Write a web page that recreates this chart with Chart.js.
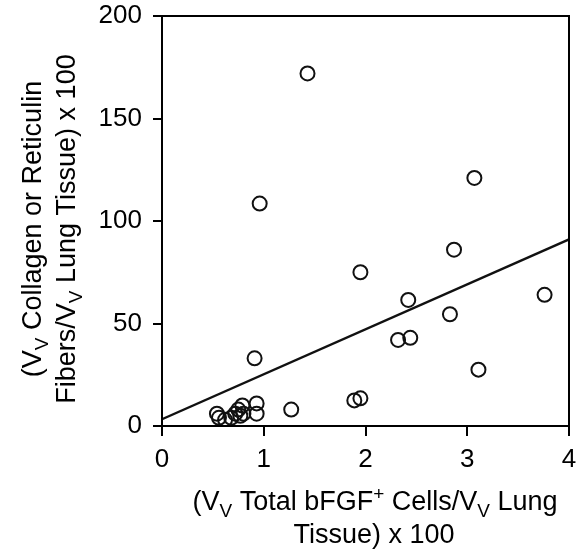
<!DOCTYPE html>
<html>
<head>
<meta charset="utf-8">
<script src="https://cdn.jsdelivr.net/npm/chart.js@4.4.0/dist/chart.umd.min.js"></script>
<style>
html,body{margin:0;padding:0;background:#fff;}
#wrap{width:583px;height:549px;}
</style>
</head>
<body>
<div id="wrap"><canvas id="c" width="583" height="549"></canvas></div>
<script>
// Scatter points
const xValues = [1.43, 3.07, 0.96, 2.87, 1.95, 2.42, 3.76, 2.83, 2.32, 2.44, 0.91, 3.11, 1.89, 1.95, 1.27, 0.93, 0.93, 0.54, 0.56, 0.62, 0.68, 0.72, 0.75, 0.77, 0.79, 0.80];
const yValues = [172, 121, 108.5, 86, 75, 61.5, 64, 54.5, 42, 43, 33, 27.5, 12.5, 13.5, 8, 11, 6, 6, 4, 3, 4, 6, 8, 5, 10, 6];
// Regression line end points
const lineX = [0, 4];
const lineY = [3.3, 91];
// Axis ranges / ticks
const xTicks = [0, 1, 2, 3, 4];
const yTicks = [0, 50, 100, 150, 200];
// Axis titles (rich text parts: n = normal, sub, sup)
const xTitleLines = [
  [["(V","n"],["V","sub"],[" Total bFGF","n"],["+","sup"],[" Cells/V","n"],["V","sub"],[" Lung","n"]],
  [["Tissue) x 100","n"]]
];
const yTitleLines = [
  [["(V","n"],["V","sub"],[" Collagen or Reticulin","n"]],
  [["Fibers/V","n"],["V","sub"],[" Lung Tissue) x 100","n"]]
];

const FONT = '"Liberation Sans", Arial, Helvetica, sans-serif';
const TITLE_SIZE = 27;
const TICK_SIZE = 26;

function drawRich(ctx, parts, cx, baseY, size) {
  const fontFor = k => (k === "n" ? size : Math.round(size * 0.7)) + "px " + FONT;
  let total = 0;
  parts.forEach(([t, k]) => { ctx.font = fontFor(k); total += ctx.measureText(t).width; });
  let x = cx - total / 2;
  ctx.textAlign = "left";
  ctx.textBaseline = "alphabetic";
  parts.forEach(([t, k]) => {
    ctx.font = fontFor(k);
    let dy = 0;
    if (k === "sub") dy = size * 0.25;
    if (k === "sup") dy = -size * 0.36;
    ctx.fillText(t, x, baseY + dy);
    x += ctx.measureText(t).width;
  });
}

const framePlugin = {
  id: "frameTitles",
  afterDraw(chart) {
    const ctx = chart.ctx, a = chart.chartArea;
    ctx.save();
    ctx.strokeStyle = "#000";
    ctx.lineWidth = 2;
    ctx.strokeRect(a.left, a.top, a.right - a.left, a.bottom - a.top);
    ctx.fillStyle = "#000";
    // x title
    drawRich(ctx, xTitleLines[0], 375, 510, TITLE_SIZE);
    drawRich(ctx, xTitleLines[1], 374, 543, TITLE_SIZE);
    // y title
    ctx.save();
    ctx.translate(41, 229);
    ctx.rotate(-Math.PI / 2);
    drawRich(ctx, yTitleLines[0], 0, 0, TITLE_SIZE);
    ctx.restore();
    ctx.save();
    ctx.translate(75, 229);
    ctx.rotate(-Math.PI / 2);
    drawRich(ctx, yTitleLines[1], 0, 0, TITLE_SIZE);
    ctx.restore();
    ctx.restore();
  }
};

const points = xValues.map((x, i) => ({ x: x, y: yValues[i] }));
const linePts = lineX.map((x, i) => ({ x: x, y: lineY[i] }));

new Chart(document.getElementById("c"), {
  type: "scatter",
  data: {
    datasets: [
      {
        label: "Data",
        data: points,
        pointRadius: 7,
        pointHoverRadius: 7,
        pointBorderWidth: 2,
        pointBorderColor: "#111",
        pointBackgroundColor: "rgba(0,0,0,0)",
        showLine: false
      },
      {
        label: "Regression",
        data: linePts,
        showLine: true,
        borderColor: "#111",
        borderWidth: 2.4,
        pointRadius: 0,
        fill: false
      }
    ]
  },
  options: {
    responsive: false,
    animation: false,
    devicePixelRatio: 1,
    layout: { padding: { top: 16, right: 14, left: 0, bottom: 0 } },
    plugins: { legend: { display: false }, tooltip: { enabled: false } },
    scales: {
      x: {
        type: "linear",
        min: xTicks[0],
        max: xTicks[xTicks.length - 1],
        afterBuildTicks: s => { s.ticks = xTicks.map(v => ({ value: v })); },
        afterFit: s => { s.height = 123; s.paddingLeft = 0; s.paddingRight = 0; },
        ticks: { color: "#000", font: { family: FONT, size: TICK_SIZE }, padding: 8, maxRotation: 0 },
        grid: { drawOnChartArea: false, drawTicks: true, tickLength: 10, color: "#000", lineWidth: 2 },
        border: { display: true, color: "#000", width: 2 },
        title: { display: false }
      },
      y: {
        type: "linear",
        min: yTicks[0],
        max: yTicks[yTicks.length - 1],
        afterBuildTicks: s => { s.ticks = yTicks.map(v => ({ value: v })); },
        afterFit: s => { s.width = 162; s.paddingTop = 0; s.paddingBottom = 0; },
        ticks: { color: "#000", font: { family: FONT, size: TICK_SIZE }, padding: 11 },
        grid: { drawOnChartArea: false, drawTicks: true, tickLength: 9, color: "#000", lineWidth: 2 },
        border: { display: true, color: "#000", width: 2 },
        title: { display: false }
      }
    }
  },
  plugins: [framePlugin]
});
</script>
</body>
</html>
